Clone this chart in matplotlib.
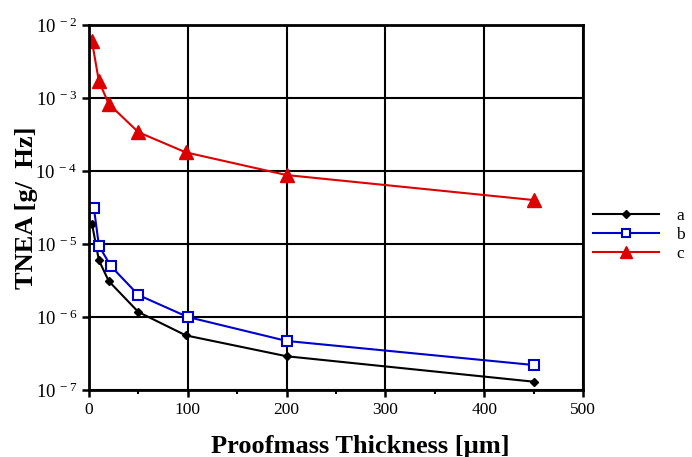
import numpy as np
import matplotlib.pyplot as plt

# data
thick_a = [3, 10, 20, 50, 98, 200, 450]
tnea_a = [1.9e-5, 6.0e-6, 3.1e-6, 1.17e-6, 5.6e-7, 2.9e-7, 1.3e-7]

thick_b = [5, 10, 22, 50, 100, 200, 450]
tnea_b = [3.1e-5, 9.5e-6, 5.0e-6, 2.0e-6, 1.0e-6, 4.7e-7, 2.2e-7]

thick_c = [3, 10, 20, 50, 98, 200, 450]
tnea_c = [6.0e-3, 1.7e-3, 8.3e-4, 3.4e-4, 1.8e-4, 8.8e-5, 4.0e-5]

decades = [-7, -6, -5, -4, -3, -2]
xticks = [0, 100, 200, 300, 400, 500]

plt.rcParams['font.family'] = ['Liberation Serif', 'DejaVu Serif']
plt.rcParams['mathtext.fontset'] = 'stix'

fig = plt.figure(figsize=(6.92, 4.57), dpi=100)
ax = fig.add_axes([0.1286, 0.1466, 0.7139, 0.7987])

ax.plot(thick_a, tnea_a, color='black', marker='D', ms=4.5, lw=1.5, label='a')
ax.plot(thick_b, tnea_b, color='#0000cc', marker='s', ms=6.5, mfc='white',
        mew=1.5, lw=1.5, label='b')
ax.plot(thick_c, tnea_c, color='#dd0000', marker='^', ms=10, lw=1.5, label='c')

ax.set_yscale('log')
ax.set_xlim(0, 500)
ax.set_ylim(1e-7, 1e-2)

ax.set_xticks(xticks)
ax.set_xticks([50, 150, 250, 350, 450], minor=True)
ax.set_yticks([10.0 ** d for d in decades])
ax.set_yticklabels([r'$\mathregular{10^{\ %d}}$' % d for d in decades])
ax.yaxis.set_minor_locator(plt.NullLocator())
ax.tick_params(labelsize=12.5, width=1.8, length=5, direction='out')
ax.tick_params(axis='y', labelsize=13.5)
ax.tick_params(axis='x', which='minor', width=1.5, length=3, direction='out')

ax.grid(True, which='major', color='black', lw=1.5)
for s in ax.spines.values():
    s.set_linewidth(2)

ax.set_xlabel('Proofmass Thickness [µm]', fontsize=19, fontweight='bold')
ax.set_ylabel('TNEA [g/  Hz]', fontsize=19, fontweight='bold')
ax.xaxis.set_label_coords(0.549, -0.122)
ax.yaxis.set_label_coords(-0.103, 0.5)

ax.legend(loc='center left', bbox_to_anchor=(1.02, 0.425), frameon=False,
          fontsize=12.5, handlelength=3.8, borderpad=0, borderaxespad=0,
          labelspacing=0.15, handletextpad=1.0, markerscale=0.9)

plt.savefig('out.png', dpi=100)
